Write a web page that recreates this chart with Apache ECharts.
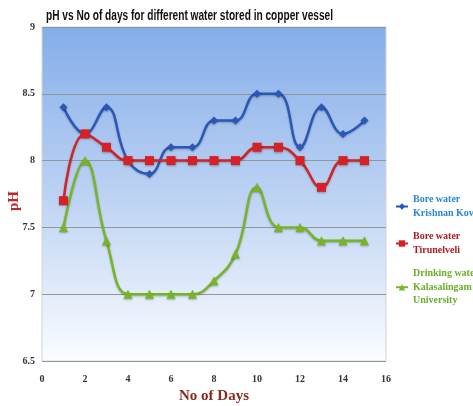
<!DOCTYPE html>
<html>
<head>
<meta charset="utf-8">
<script src="https://cdn.jsdelivr.net/npm/echarts@6/dist/echarts.min.js"></script>
<style>html,body{margin:0;padding:0;background:#fff}#c{width:473px;height:406px}</style>
</head>
<body>
<div id="c"></div>
<script>
// Days of storage and measured pH for each water source
const days = [1, 2, 3, 4, 5, 6, 7, 8, 9, 10, 11, 12, 13, 14, 15];
const boreKrishnanKovil = [8.4, 8.2, 8.4, 8.0, 7.9, 8.1, 8.1, 8.3, 8.3, 8.5, 8.5, 8.1, 8.4, 8.2, 8.3];
const boreTirunelveli = [7.7, 8.2, 8.1, 8.0, 8.0, 8.0, 8.0, 8.0, 8.0, 8.1, 8.1, 8.0, 7.8, 8.0, 8.0];
const drinkingKalasalingam = [7.5, 8.0, 7.4, 7.0, 7.0, 7.0, 7.0, 7.1, 7.3, 7.8, 7.5, 7.5, 7.4, 7.4, 7.4];
const seriesNames = ['Bore water\nKrishnan Kovil', 'Bore water\nTirunelveli', 'Drinking water\nKalasalingam\nUniversity'];
const chartTitle = 'pH vs No of days for different water stored in copper vessel';
const yAxisTitle = 'pH';

const pairs = arr => days.map((d, i) => [d, arr[i]]);
const serif = 'Liberation Serif';

// Condensed title: squeeze a regular bold face horizontally to a narrow width
const titleFont = 'bold 14px "Liberation Sans"';
const ctx = document.createElement('canvas').getContext('2d');
ctx.font = titleFont;
const titleScale = 287 / ctx.measureText(chartTitle).width;

function lineSeries(name, data, color, symbol, size) {
  return {
    name: name,
    type: 'line',
    smooth: 0.45,
    data: pairs(data),
    symbol: symbol,
    symbolSize: size,
    lineStyle: { color: color, width: 2.5, shadowColor: 'rgba(0,0,0,0.25)', shadowBlur: 2, shadowOffsetY: 1 },
    itemStyle: { color: color, shadowColor: 'rgba(0,0,0,0.3)', shadowBlur: 2, shadowOffsetY: 1 }
  };
}

const chart = echarts.init(document.getElementById('c'));
chart.setOption({
  animation: false,
  graphic: [{
    type: 'text', left: 46, top: 9,
    scaleX: titleScale,
    style: { text: chartTitle, font: titleFont, fill: '#111' }
  }, {
    // vertical y-axis title, rotated to read bottom-to-top
    type: 'text', x: 14, y: 201, rotation: Math.PI / 2,
    style: { text: yAxisTitle, font: 'bold 15px "' + serif + '"', fill: '#c0262a', align: 'center', verticalAlign: 'middle' }
  }],
  grid: {
    left: 42, right: 87, top: 27, bottom: 45,
    outerBoundsMode: 'none',
    containLabel: false,
    show: true,
    borderColor: '#d0d4da', borderWidth: 1,
    backgroundColor: {
      type: 'linear', x: 0, y: 0, x2: 0, y2: 1,
      colorStops: [
        { offset: 0, color: '#84ade9' },
        { offset: 0.5, color: '#bcd2f3' },
        { offset: 1, color: '#fbfdff' }
      ]
    }
  },
  legend: {
    orient: 'vertical',
    left: 395, top: 193, padding: 0,
    itemWidth: 12, itemHeight: 8, itemGap: 10,
    textStyle: { fontFamily: serif, fontWeight: 'bold', fontSize: 10, lineHeight: 13.5 },
    data: [
      { name: seriesNames[0], textStyle: { color: '#2c86d6' } },
      { name: seriesNames[1], textStyle: { color: '#b01c22' } },
      { name: seriesNames[2], textStyle: { color: '#6bae2a' } }
    ]
  },
  xAxis: {
    type: 'value', min: 0, max: 16, interval: 2,
    name: 'No of Days', nameLocation: 'middle', nameGap: 28,
    nameTextStyle: { fontFamily: serif, fontWeight: 'bold', fontSize: 15, color: '#8a2a1c' },
    axisLine: { show: false }, axisTick: { show: false }, splitLine: { show: false },
    axisLabel: { fontFamily: serif, fontWeight: 'bold', fontSize: 10, color: '#333', margin: 13 }
  },
  yAxis: {
    type: 'value', min: 6.5, max: 9, interval: 0.5,
    axisLine: { show: false }, axisTick: { show: false },
    splitLine: { lineStyle: { color: '#8f979f', width: 1 } },
    axisLabel: { fontFamily: serif, fontWeight: 'bold', fontSize: 10, color: '#333', margin: 7 }
  },
  series: [
    lineSeries(seriesNames[0], boreKrishnanKovil, '#2b58b8', 'diamond', 8),
    lineSeries(seriesNames[1], boreTirunelveli, '#d42226', 'rect', 9),
    lineSeries(seriesNames[2], drinkingKalasalingam, '#78b526', 'triangle', 9)
  ]
});
</script>
</body>
</html>
